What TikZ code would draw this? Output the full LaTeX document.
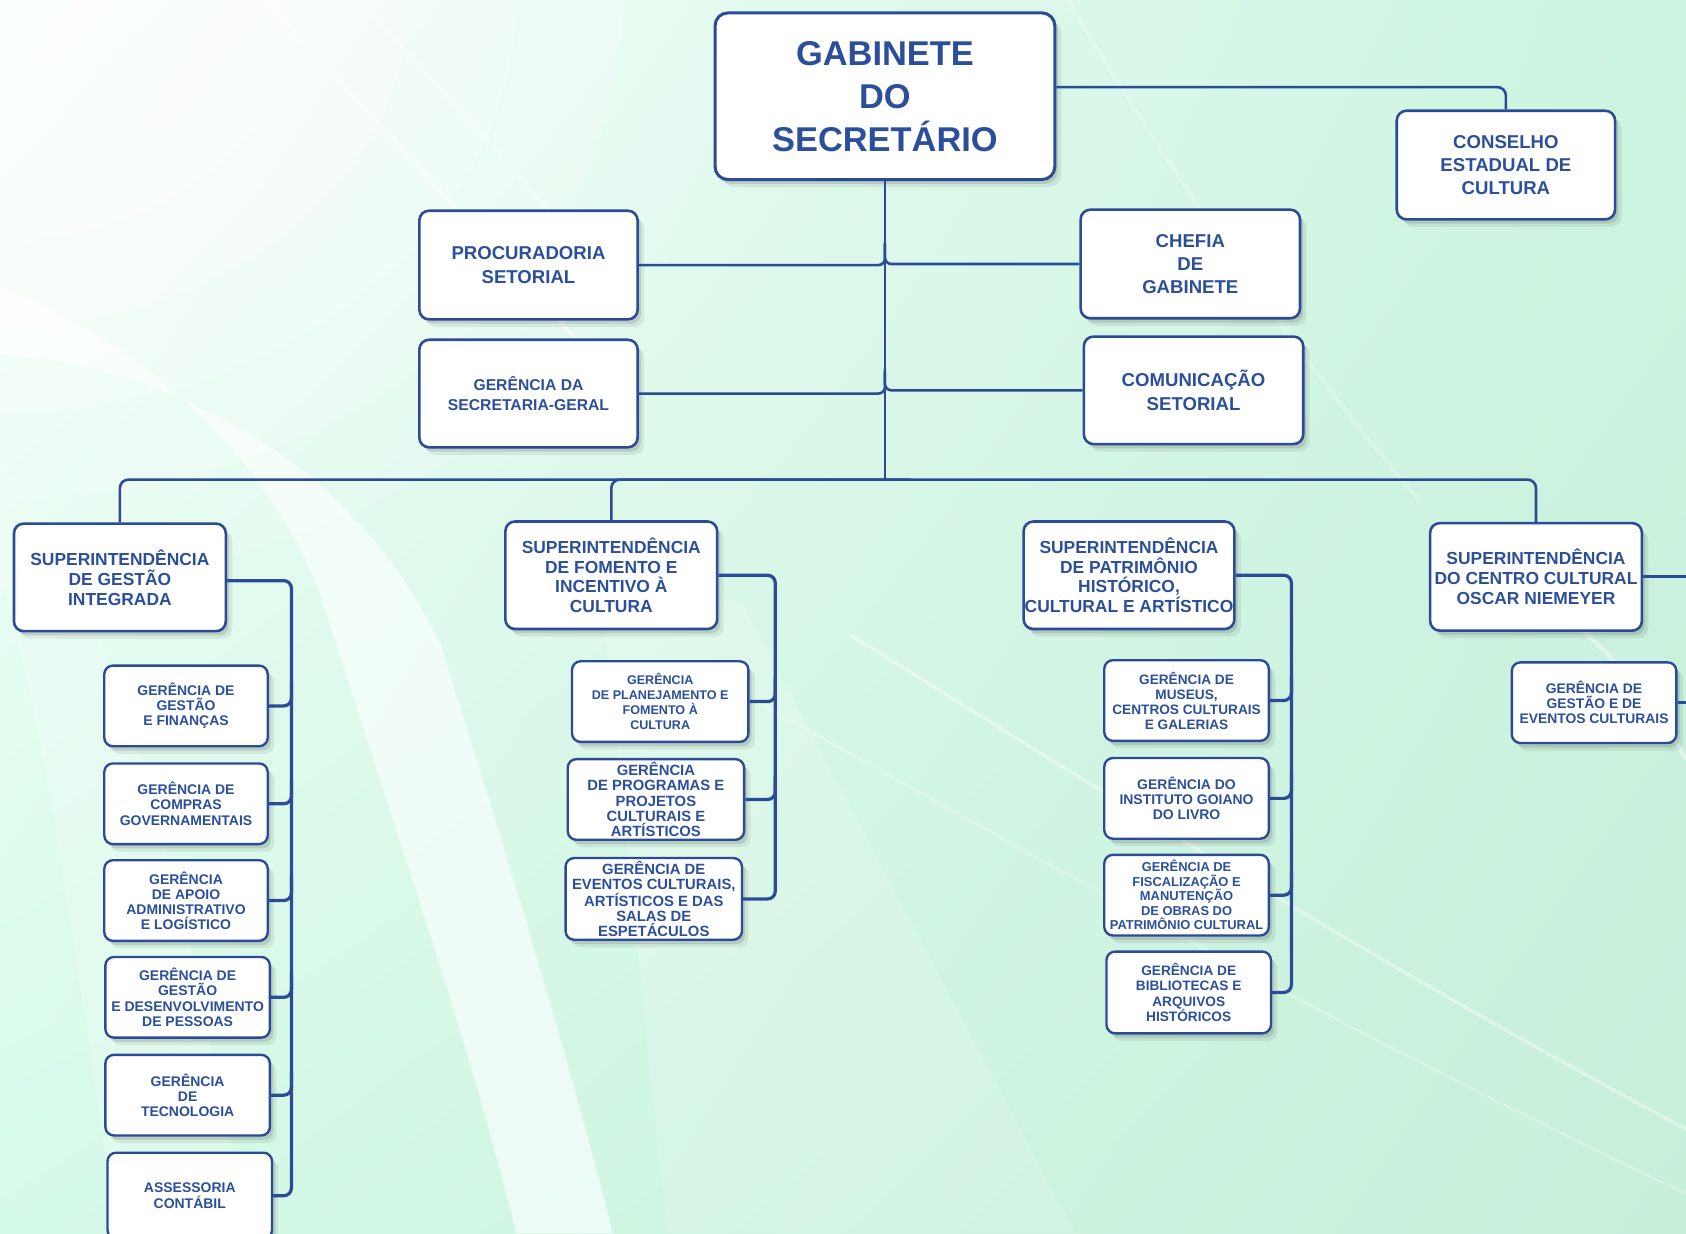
\documentclass[tikz,border=0pt]{standalone}
\usepackage{fontspec}
\setmainfont{Liberation Sans}
\usetikzlibrary{shadows,calc,shadings}
\definecolor{bord}{HTML}{2B4B96}
\definecolor{txt}{HTML}{2C4F9C}
\definecolor{bgA}{HTML}{F4FFFA}
\definecolor{bgB}{HTML}{CCF4E0}
\definecolor{bgC}{HTML}{D6FAE8}
\definecolor{bgD}{HTML}{C6EED9}
\tikzset{
 bxbase/.style={draw=bord, line width=2.4pt, fill=white, rounded corners=9pt, align=center, text=txt, inner sep=0pt,
   drop shadow={shadow xshift=3pt, shadow yshift=-4pt, opacity=.16, fill=black!70},
   drop shadow={shadow xshift=6pt, shadow yshift=-7pt, opacity=.07, fill=black}},
 bxbig/.style={bxbase, line width=2.8pt, rounded corners=12pt, font=\fontsize{32}{40}\selectfont\bfseries},
 bxmid/.style={bxbase, font=\fontsize{17.3}{21.5}\selectfont\bfseries},
 bxsup/.style={bxbase, minimum width=197pt, minimum height=100pt, font=\fontsize{16.2}{18.5}\selectfont\bfseries},
 bxger/.style={bxbase, line width=2.2pt, rounded corners=8pt, minimum width=152pt, minimum height=75pt, font=\fontsize{13}{14}\selectfont\bfseries},
 lntrunk/.style={draw=bord, line width=2.4pt, rounded corners=8pt},
 lnbranch/.style={draw=bord, line width=3pt, rounded corners=7pt},
}
\begin{document}
\begin{tikzpicture}[x=1pt,y=-1pt]
\useasboundingbox (0,0) rectangle (1568,1147);
\clip (0,0) rectangle (1568,1147);
% ---------- background ----------
\shade[upper left=bgA, upper right=bgB, lower left=bgC, lower right=bgD] (0,0) rectangle (1568,1147);
\foreach \r/\o in {680/.12,580/.18,480/.25,380/.3,280/.35}
  \fill[white,opacity=\o] (0,0) ellipse ({\r} and {\r*0.8});
\draw[white,opacity=.25,line width=3pt] (993,0) .. controls (1100,180) and (1220,350) .. (1320,465);
% main white swoosh band (lower left)
\fill[white,opacity=.6] (0,265) .. controls (140,320) and (260,440) .. (300,560)
   .. controls (370,780) and (440,980) .. (480,1147) -- (570,1147)
   .. controls (520,950) and (460,760) .. (410,600)
   .. controls (330,430) and (160,340) .. (0,330) -- cycle;
\fill[white,opacity=.2] (0,430) .. controls (90,520) and (170,800) .. (230,1147) -- (110,1147)
   .. controls (70,900) and (40,650) .. (0,540) -- cycle;
\fill[white,opacity=.15] (560,560) -- (690,560) -- (1000,1147) -- (620,1147) -- cycle;
\draw[white,opacity=.7,line width=2.5pt] (247,0) -- (540,320);
\draw[white,opacity=.5,line width=2pt] (335,0) -- (560,250);
% bottom-right swooshes
\draw[white,opacity=.4,line width=3pt] (790,590) .. controls (1000,720) and (1250,880) .. (1568,1050);
\draw[white,opacity=.25,line width=2.5pt] (700,650) .. controls (950,790) and (1250,960) .. (1568,1110);
\draw[white,opacity=.4,line width=4pt] (1440,558) .. controls (1500,610) and (1540,650) .. (1568,707);
% ---------- nodes ----------
\node[bxbig, minimum width=316pt, minimum height=155pt] (gab) at (823,89.5) {GABINETE\\DO\\SECRETÁRIO};
\node[bxmid, minimum width=203pt, minimum height=101pt] (cons) at (1400.5,153.5) {CONSELHO\\ESTADUAL DE\\CULTURA};
\node[bxmid, minimum width=203pt, minimum height=101pt] (proc) at (491.5,246.5) {PROCURADORIA\\SETORIAL};
\node[bxmid, minimum width=204pt, minimum height=101pt] (chef) at (1107,245.5) {CHEFIA\\DE\\GABINETE};
\node[bxbase, font=\fontsize{14.6}{19}\selectfont\bfseries, minimum width=203pt, minimum height=100pt] (sec) at (491.5,366) {GERÊNCIA DA\\SECRETARIA-GERAL};
\node[bxmid, minimum width=204pt, minimum height=100pt] (com) at (1110,363) {COMUNICAÇÃO\\SETORIAL};

\node[bxsup] (sgi) at (111.5,537) {SUPERINTENDÊNCIA\\DE GESTÃO\\INTEGRADA};
\node[bxsup] (sfi) at (568.5,535) {SUPERINTENDÊNCIA\\DE FOMENTO E\\INCENTIVO À\\CULTURA};
\node[bxsup, minimum width=196pt] (sph) at (1050,535) {SUPERINTENDÊNCIA\\DE PATRIMÔNIO\\HISTÓRICO,\\CULTURAL E ARTÍSTICO};
\node[bxsup] (scc) at (1428.5,536.5) {SUPERINTENDÊNCIA\\DO CENTRO CULTURAL\\OSCAR NIEMEYER};

\node[bxger] (g1) at (173,656.5) {GERÊNCIA DE\\GESTÃO\\E FINANÇAS};
\node[bxger] (g2) at (173,747.5) {GERÊNCIA DE\\COMPRAS\\GOVERNAMENTAIS};
\node[bxger] (g3) at (173,837.5) {GERÊNCIA\\DE APOIO\\ADMINISTRATIVO\\E LOGÍSTICO};
\node[bxger, minimum width=153pt] (g4) at (174.5,927.5) {GERÊNCIA DE\\GESTÃO\\E DESENVOLVIMENTO\\DE PESSOAS};
\node[bxger, minimum width=153pt] (g5) at (174.5,1018.5) {GERÊNCIA\\DE\\TECNOLOGIA};
\node[bxger, minimum width=153pt, minimum height=80pt] (g6) at (176.5,1112) {ASSESSORIA\\CONTÁBIL};

\node[bxger, minimum width=164pt, font=\fontsize{11.7}{14}\selectfont\bfseries] (f1) at (614,652.5) {GERÊNCIA\\DE PLANEJAMENTO E\\FOMENTO À\\CULTURA};
\node[bxger, minimum width=164pt, font=\fontsize{13.8}{14}\selectfont\bfseries] (f2) at (610,743.5) {GERÊNCIA\\DE PROGRAMAS E\\PROJETOS\\CULTURAIS E\\ARTÍSTICOS};
\node[bxger, minimum width=164pt, minimum height=76pt, font=\fontsize{13.8}{14}\selectfont\bfseries] (f3) at (608,836) {GERÊNCIA DE\\EVENTOS CULTURAIS,\\ARTÍSTICOS E DAS\\SALAS DE\\ESPETÁCULOS};

\node[bxger, minimum width=153pt, font=\fontsize{12.7}{14}\selectfont\bfseries] (p1) at (1103.5,651.5) {GERÊNCIA DE\\MUSEUS,\\CENTROS CULTURAIS\\E GALERIAS};
\node[bxger, minimum width=153pt] (p2) at (1103.5,742.5) {GERÊNCIA DO\\INSTITUTO GOIANO\\DO LIVRO};
\node[bxger, minimum width=153pt, font=\fontsize{12}{13.5}\selectfont\bfseries] (p3) at (1103.5,832.5) {GERÊNCIA DE\\FISCALIZAÇÃO E\\MANUTENÇÃO\\DE OBRAS DO\\PATRIMÔNIO CULTURAL};
\node[bxger, minimum width=153pt, minimum height=76pt, font=\fontsize{12.7}{14}\selectfont\bfseries] (p4) at (1105.5,923) {GERÊNCIA DE\\BIBLIOTECAS E\\ARQUIVOS\\HISTÓRICOS};

\node[bxger, minimum width=153pt, font=\fontsize{12.9}{14}\selectfont\bfseries] (n1) at (1482.5,653.5) {GERÊNCIA DE\\GESTÃO E DE\\EVENTOS CULTURAIS};

% ---------- connectors ----------
\coordinate (bus) at (823,446);
\coordinate (Ltr) at (271,0);
\coordinate (Ftr) at (721,0);
\coordinate (Ptr) at (1201,0);
\coordinate (Nr) at (1600,0);

\draw[lntrunk] (gab.south) -- (bus);
\draw[lntrunk, rounded corners=6pt] (proc.east) -| ($(gab.south |- proc.east)+(0,-20)$);
\draw[lntrunk, rounded corners=6pt] (chef.west) -| ($(gab.south |- chef.west)+(0,-20)$);
\draw[lntrunk, rounded corners=6pt] (sec.east) -| ($(gab.south |- sec.east)+(0,-20)$);
\draw[lntrunk, rounded corners=6pt] (com.west) -| ($(gab.south |- com.west)+(0,-20)$);
\draw[lntrunk] ([yshift=8.5pt]gab.east) -| (cons.north);
\draw[lntrunk] (sgi.north) |- (bus);
\draw[lntrunk] (sfi.north) |- ($(bus)+(24,0)$);
\draw[lntrunk] (scc.north) |- (bus);

% Gestao integrada
\draw[lnbranch] ([yshift=-3pt]sgi.east) -| (Ltr |- g6.east) -- (g6.east);
\foreach \g in {g1,g2,g3,g4,g5}
  \draw[lnbranch] (\g.east) -| ($(Ltr |- \g.east)+(0,-22)$);
% Fomento
\draw[lnbranch] (sfi.east) -| (Ftr |- f3.east) -- (f3.east);
\foreach \g in {f1,f2}
  \draw[lnbranch] (\g.east) -| ($(Ftr |- \g.east)+(0,-22)$);
% Patrimonio
\draw[lnbranch] (sph.east) -| (Ptr |- p4.east) -- (p4.east);
\foreach \g in {p1,p2,p3}
  \draw[lnbranch] (\g.east) -| ($(Ptr |- \g.east)+(0,-22)$);
% Niemeyer
\draw[lnbranch] (scc.east) -- (scc.east -| Nr);
\draw[lnbranch] (n1.east) -- (n1.east -| Nr);
\end{tikzpicture}
\end{document}
